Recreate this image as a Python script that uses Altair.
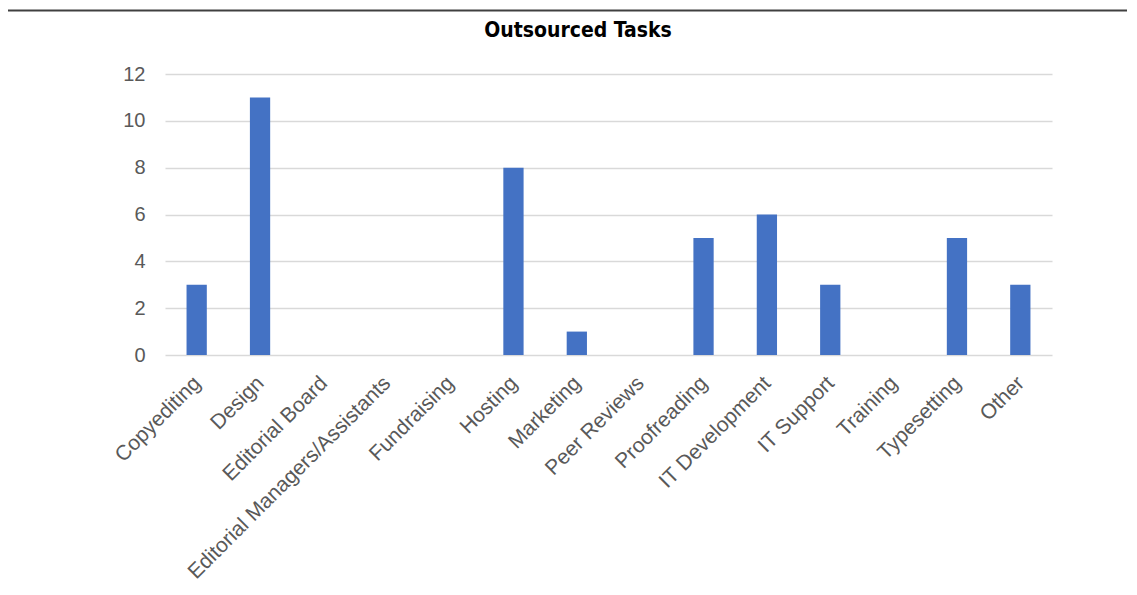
import altair as alt
import pandas as pd

categories = ["Copyediting", "Design", "Editorial Board", "Editorial Managers/Assistants",
              "Fundraising", "Hosting", "Marketing", "Peer Reviews", "Proofreading",
              "IT Development", "IT Support", "Training", "Typesetting", "Other"]
counts = [3, 11, 0, 0, 0, 8, 1, 0, 5, 6, 3, 0, 5, 3]
y_ticks = [0, 2, 4, 6, 8, 10, 12]
title_text = "Outsourced Tasks"

df = pd.DataFrame({"task": categories, "count": counts})

W, H = 887, 281

bars = alt.Chart(df).mark_bar(color="#4472C4").encode(
    x=alt.X("task:N", sort=categories,
            scale=alt.Scale(paddingInner=0.68, paddingOuter=0.34),
            axis=alt.Axis(title=None, labelAngle=-45, labelAlign="right", labelBaseline="top",
                          labelFont="Liberation Sans", labelFontSize=21, labelColor="#595959",
                          labelPadding=17, labelOffset=-7, ticks=False, domain=False, grid=False,
                          labelOverlap=False, labelLimit=0)),
    y=alt.Y("count:Q", scale=alt.Scale(domain=[0, 12], nice=False),
            axis=alt.Axis(title=None, values=y_ticks, labelFont="Liberation Sans",
                          labelFontSize=20, labelColor="#595959", labelPadding=20,
                          ticks=False, domain=False, gridColor="#D9D9D9", gridWidth=1.5)),
)

topline = alt.Chart(pd.DataFrame({"a": [0]})).mark_rule(color="#404040", strokeWidth=2, clip=False).encode(
    x=alt.value(-157), x2=alt.value(972), y=alt.value(-63.5)
)

title = alt.Chart(pd.DataFrame({"t": [title_text]})).mark_text(
    font="DejaVu Sans Condensed, Open Sans, sans-serif", fontWeight="bold", fontSize=21, color="#000000",
    align="center", baseline="alphabetic"
).encode(text="t:N", x=alt.value(413), y=alt.value(-37))

chart = alt.layer(bars, topline, title).properties(
    width=W, height=H,
    autosize=alt.AutoSizeParams(type="none"),
    padding={"left": 157, "top": 66, "right": 75, "bottom": 231},
).configure_view(stroke=None)

chart.save("out.html", embed_options={"renderer": "svg", "actions": False})
